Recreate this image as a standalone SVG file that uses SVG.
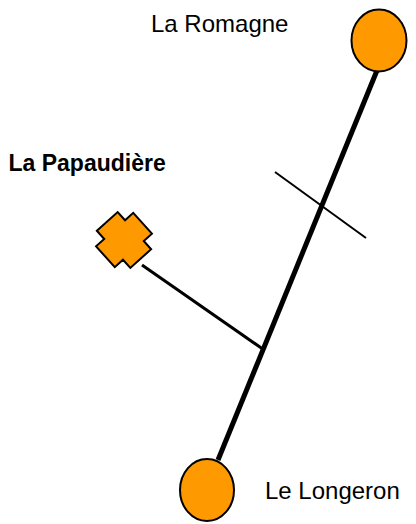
<svg xmlns="http://www.w3.org/2000/svg" width="416" height="524" viewBox="0 0 416 524">
<style>
.lbl{font-family:"Liberation Sans",Arial,sans-serif;font-size:24px;fill:#000}
.bold{font-weight:bold;font-size:23px}
.node{fill:#FF9900;stroke:#000;stroke-width:2}
.conn{stroke:#000;fill:none;stroke-linecap:butt}
</style>
<rect width="416" height="524" fill="#fff"/>
<g id="connectors">
<line class="conn" x1="378" y1="68" x2="218" y2="460" stroke-width="5"/>
<line class="conn" x1="142" y1="265" x2="262" y2="348.5" stroke-width="3"/>
<line class="conn" x1="275" y1="172" x2="366" y2="238" stroke-width="2"/>
</g>
<g id="la-romagne">
<ellipse class="node" cx="379" cy="40.5" rx="27.5" ry="31"/>
<text class="lbl" x="151" y="32">La Romagne</text>
</g>
<g id="le-longeron">
<ellipse class="node" cx="207" cy="490" rx="27" ry="31"/>
<text class="lbl" x="265" y="499">Le Longeron</text>
</g>
<g id="la-papaudiere">
<polygon class="node" stroke-width="1.8" transform="translate(124 240) rotate(-42)" points="-14,-25 14,-25 14,-14 25,-14 25,14 14,14 14,25 -14,25 -14,14 -25,14 -25,-14 -14,-14"/>
<text class="lbl bold" x="8.5" y="170.5">La Papaudière</text>
</g>
</svg>
